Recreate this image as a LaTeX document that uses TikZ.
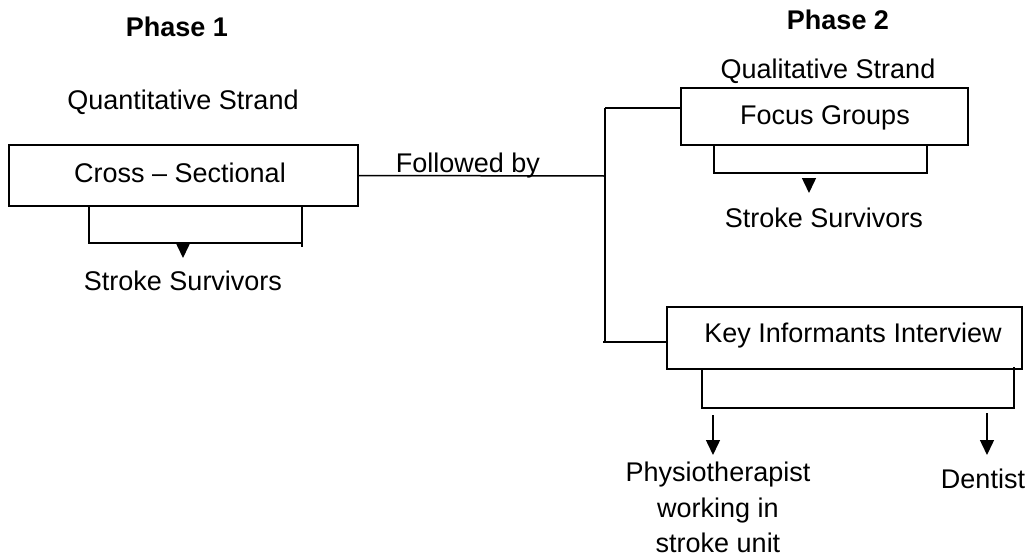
\documentclass[tikz,border=0pt]{standalone}
\usepackage{fontspec}
\setmainfont{Liberation Sans}
\usetikzlibrary{arrows.meta,calc}
\begin{document}
\begin{tikzpicture}[x=1pt,y=-1pt,
  txt/.style={inner sep=0pt,anchor=base,font=\fontsize{27}{35.5}\selectfont},
  boxn/.style={draw,line width=1.5pt,minimum height=0pt,inner sep=0pt},
  ln/.style={line width=1.5pt},
  arr/.style={line width=1.5pt,-{Triangle[width=14pt,length=15pt]}}]
\useasboundingbox (0,0) rectangle (1034,557);
% boxes
\node[boxn,minimum width=349pt,minimum height=61pt] (cs) at (183.5,175.5) {};
\node[boxn,minimum width=287pt,minimum height=57pt] (fg) at (824.5,116.5) {};
\node[boxn,minimum width=355pt,minimum height=62pt] (ki) at (844.5,338) {};
% texts
\node[txt,font=\fontsize{27}{35.5}\selectfont\bfseries] (p1) at (177,36) {Phase 1};
\node[txt,font=\fontsize{27}{35.5}\selectfont\bfseries] (p2) at (838,29) {Phase 2};
\node[txt] (qn) at (183,109) {Quantitative Strand};
\node[txt] (ql) at (828,78) {Qualitative Strand};
\node[txt] at (180,182) {Cross – Sectional};
\node[txt] at (825,124) {Focus Groups};
\node[txt] at (853,342) {Key Informants Interview};
\node[txt] (fb) at (468,172) {Followed by};
\node[txt] (ss1) at (183,290) {Stroke Survivors};
\node[txt] (ss2) at (824,227) {Stroke Survivors};
\node[txt,anchor=north,align=center] (ph) at (718,462) {Physiotherapist\\working in\\stroke unit};
\node[txt] (de) at (983,488) {Dentist};
% followed-by connector
\coordinate (j) at (605,176);
\draw[ln] (cs.east) -- (j);
\draw[ln] (605,108) -- (605,342);
\draw[ln] (605,108) -- (fg.west |- 0,108);
\draw[ln] (603,342) -- (ki.west |- 0,342);
% bracket 1
\draw[ln] (89,206) -- (89,243) -- (302,243);
\draw[ln] (302,206) -- (302,247);
\coordinate (a1) at (183,243);
\draw[arr] (a1) -- (183,258);
% bracket 2
\draw[ln] (714,145) -- (714,173) -- (927,173) -- (927,145);
\coordinate (a2) at (809,178);
\draw[arr] (a2) -- (809,193);
% bracket 3
\draw[ln] (702,369) -- (702,408) -- (1014,408) -- (1014,367);
\coordinate (a3) at (713,415);
\coordinate (a4) at (987,413);
\draw[arr] (a3) -- (713,455);
\draw[arr] (a4) -- (987,455);
\end{tikzpicture}
\end{document}
